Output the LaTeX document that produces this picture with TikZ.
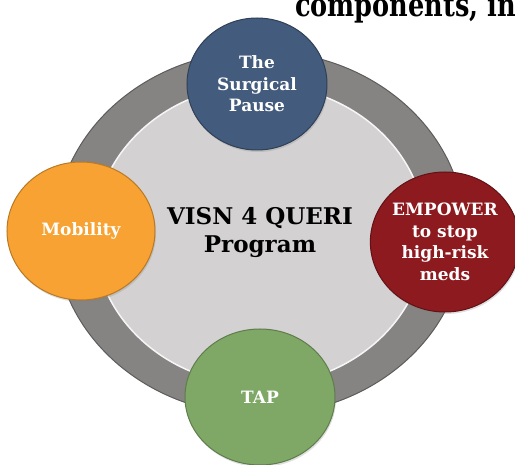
\documentclass[tikz,border=0pt]{standalone}
\usepackage{fontspec}
\setmainfont{DejaVu Serif}
\newfontfamily\titlefont[FakeStretch=0.8]{DejaVu Serif}
\usetikzlibrary{shapes.geometric,positioning,shadows}
\definecolor{ringgray}{HTML}{868383}
\definecolor{ringedge}{HTML}{5E5B5B}
\definecolor{hubgray}{HTML}{D3D1D1}
\definecolor{podblue}{HTML}{435B7C}
\definecolor{podorange}{HTML}{F7A232}
\definecolor{podred}{HTML}{8C1A1F}
\definecolor{podgreen}{HTML}{7FA766}
\tikzstyle{pod} = [ellipse, draw, line width=1pt, text=white, align=center, inner sep=0pt, font=\bfseries\fontsize{17}{21.5}\selectfont, drop shadow={opacity=0.25, shadow xshift=1pt, shadow yshift=-2pt}]
\tikzstyle{hub} = [align=center, font=\bfseries\fontsize{23}{28}\selectfont]

\begin{document}
\begin{tikzpicture}[x=1pt, y=1pt, node distance=150pt]
    \clip (-260,-232) rectangle (255,233);
    % ring
    \draw [ringedge, fill=ringgray, line width=1pt] (0,0) ellipse (205 and 182);
    \draw [white!80!hubgray, fill=hubgray, line width=1.5pt] (0,-2) ellipse (166 and 150);
    \node [hub] (queri) at (0,0) {VISN 4 QUERI\\Program};
    \node [pod, fill=podblue, draw=podblue!70!black, minimum width=140pt, minimum height=132pt, above of=queri, node distance=149pt, xshift=-3pt] (pause) {The\\Surgical\\Pause};
    \node [pod, fill=podorange, draw=podorange!75!black, minimum width=148pt, minimum height=138pt, left of=queri, node distance=179pt, yshift=2pt] (mobility) {Mobility};
    \node [pod, fill=podred, draw=podred!70!black, minimum width=140pt, minimum height=140pt, right of=queri, node distance=185pt, yshift=-9pt] (empower) {EMPOWER\\to stop\\high-risk\\meds};
    \node [pod, fill=podgreen, draw=podgreen!75!black, minimum width=150pt, minimum height=136pt, below of=queri, node distance=164pt] (tap) {TAP};
    \node [anchor=base west, inner sep=0pt, font=\titlefont\bfseries\fontsize{32}{36}\selectfont] (title) at (35,216) {components, in};
\end{tikzpicture}
\end{document}
